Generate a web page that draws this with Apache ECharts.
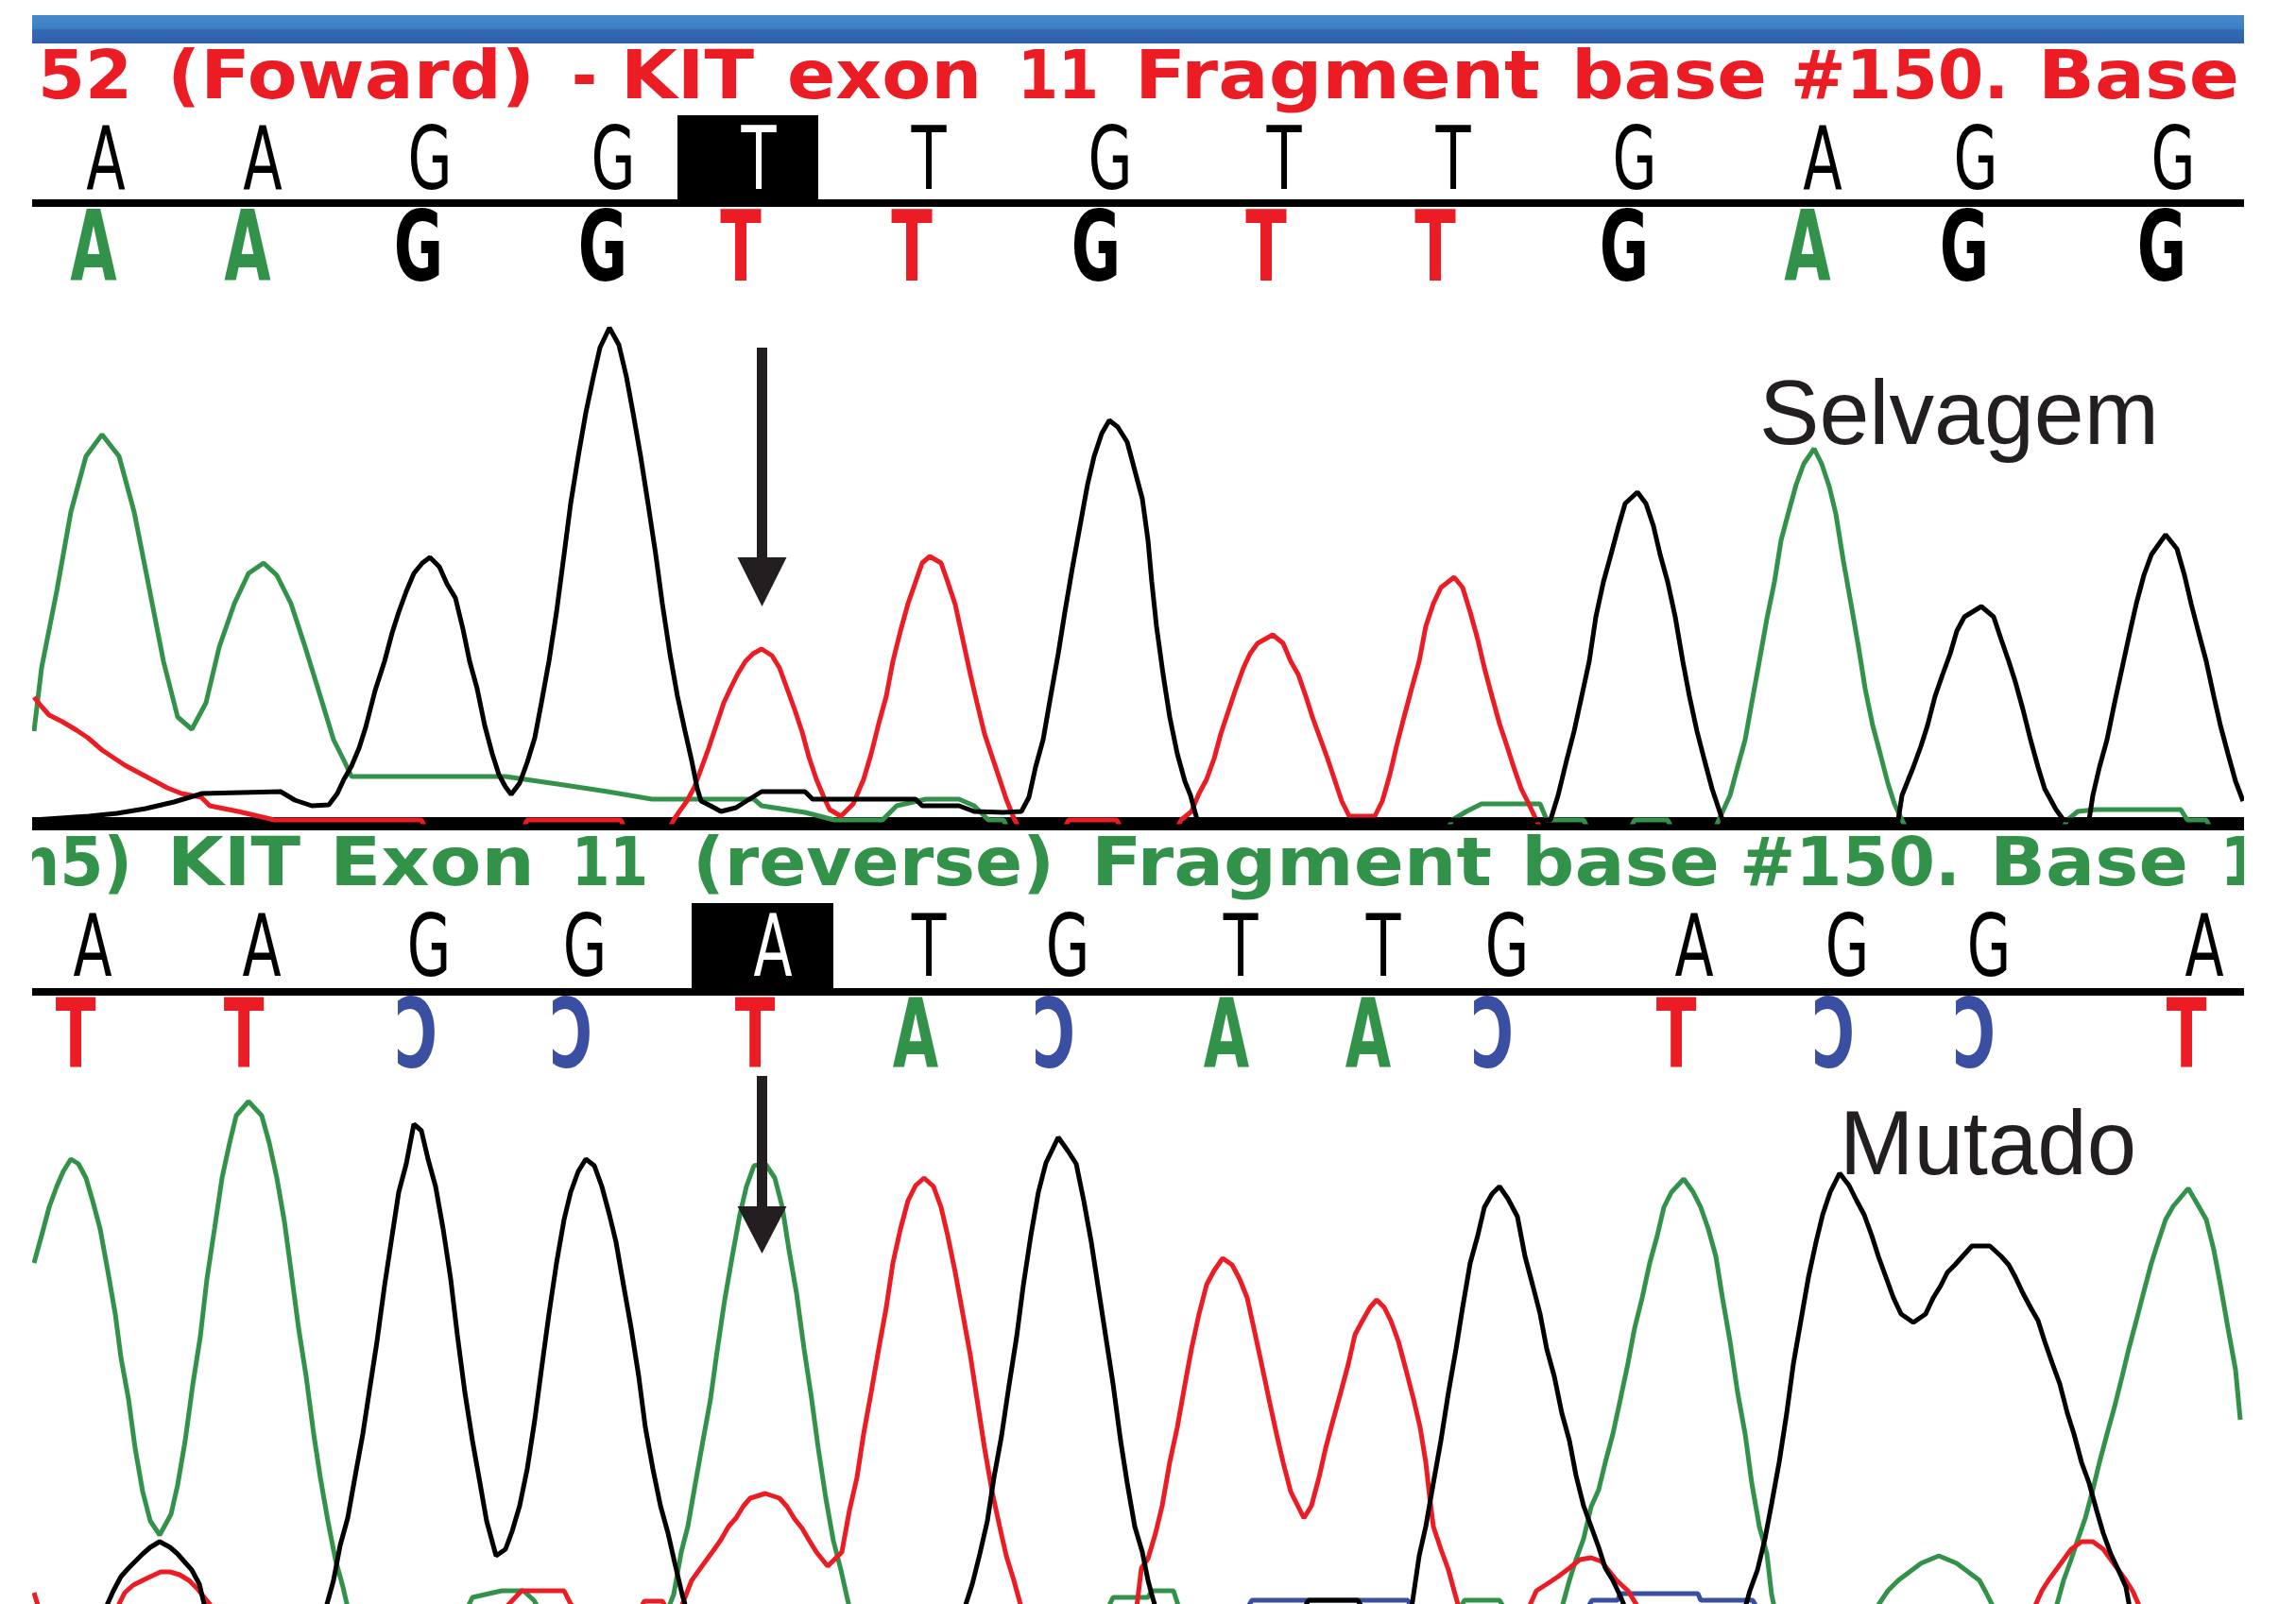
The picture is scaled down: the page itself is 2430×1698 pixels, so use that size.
<!DOCTYPE html>
<html>
<head>
<meta charset="utf-8">
<script src="https://cdn.jsdelivr.net/npm/echarts@6/dist/echarts.min.js"></script>
<style>html,body{margin:0;padding:0;background:#fff;}#c{width:2430px;height:1698px;}</style>
</head>
<body>
<div id="c"></div>
<script>
// ---------------- DATA ----------------
// Base calls (top = forward read, bottom = reverse read)
const topCalls      = ['A','A','G','G','T','T','G','T','T','G','A','G','G'];
const topCallPos    = [112,278,455,649,803,983,1175,1359,1538,1730,1929,2091,2300];
const topEdited     = ['A','A','G','G','T','T','G','T','T','G','A','G','G'];
const topEditedPos  = [99,262,443,638,784,965,1160,1340,1519,1719,1913,2079,2288];
const botCalls      = ['A','A','G','G','A','T','G','T','T','G','A','G','G','A'];
const botCallPos    = [98,277,454,619,818,983,1130,1313,1464,1595,1793,1955,2105,2333];
const botEdited     = ['T','T','C','C','T','A','C','A','A','C','T','C','C','T'];
const botEditedPos  = [80,258,440,604,799,969,1115,1298,1448,1579,1774,1940,2089,2314];
const topMarked = 4, botMarked = 4;

const topTitleWords = ['52','(Foward)','-','KIT','exon','11','Fragment','base','#150.','Base'];
const botTitleWords = ['n5)','KIT','Exon','11','(reverse)','Fragment','base','#150.','Base','1'];
const labelTop = 'Selvagem', labelBot = 'Mutado';

// Trace intensities [scan position, signal]  (top = forward, bottom = reverse)
const topA = [[36,96],[44,163],[60,244],[75,328],[91,387],[108,410],[126,387],[142,328],[157,252],[173,170],[188,111],[203,98],[218,126],[232,185],[248,231],[263,263],[279,274],[293,261],[308,231],[323,185],[339,133],[353,87],[364,65],[372,48],[535,48],[597,39],[643,32],[690,24],[798,24],[806,17],[852,10],[883,2],[934,2],[949,17],[980,24],[1015,24],[1031,17],[1046,2],[1062,2],[1068,-10],[1531,-10],[1537,2],[1552,11],[1568,19],[1630,19],[1637,2],[1676,2],[1682,-10],[1724,-10],[1730,2],[1765,2],[1771,-10],[1814,-10],[1820,4],[1831,28],[1839,58],[1847,87],[1854,126],[1862,170],[1870,215],[1878,254],[1885,298],[1893,328],[1901,357],[1909,379],[1920,395],[1928,379],[1936,355],[1943,326],[1951,276],[1959,231],[1967,185],[1974,141],[1982,102],[1990,72],[1998,41],[2005,19],[2013,2],[2019,-10],[2182,-10],[2188,2],[2199,11],[2218,13],[2308,13],[2315,2],[2335,2],[2341,-10],[2374,-10]];
const topG = [[35,2],[94,6],[124,9],[154,14],[184,21],[214,30],[297,32],[312,23],[330,17],[348,18],[357,30],[364,45],[372,59],[380,78],[387,100],[397,139],[407,170],[415,200],[422,222],[430,244],[438,263],[447,274],[455,280],[465,270],[473,252],[482,237],[490,204],[497,170],[505,141],[513,102],[521,72],[528,50],[535,37],[541,29],[550,41],[558,63],[566,89],[573,126],[581,170],[589,222],[597,283],[604,337],[612,387],[620,433],[628,471],[635,502],[645,523],[655,505],[663,471],[670,433],[678,387],[686,336],[694,283],[701,231],[709,178],[717,133],[725,96],[732,65],[738,35],[742,22],[752,17],[763,11],[779,15],[790,22],[806,32],[852,32],[860,24],[969,24],[976,17],[1015,17],[1031,11],[1062,10],[1081,11],[1089,26],[1096,58],[1104,87],[1112,133],[1120,178],[1127,222],[1135,269],[1143,313],[1151,357],[1158,387],[1166,411],[1174,425],[1183,418],[1193,402],[1201,372],[1209,342],[1215,298],[1219,254],[1224,207],[1231,156],[1238,111],[1246,72],[1254,43],[1260,28],[1267,2],[1641,2],[1649,28],[1658,65],[1666,96],[1674,133],[1682,170],[1689,217],[1697,254],[1705,283],[1713,313],[1720,337],[1733,349],[1742,337],[1750,313],[1757,283],[1765,254],[1773,217],[1781,170],[1788,133],[1796,96],[1804,65],[1812,35],[1823,2],[2009,2],[2013,28],[2025,58],[2033,80],[2040,102],[2048,133],[2056,156],[2064,178],[2071,202],[2079,217],[2097,228],[2110,217],[2118,193],[2126,170],[2133,148],[2141,119],[2149,87],[2157,58],[2164,35],[2176,13],[2184,2],[2211,2],[2215,28],[2222,58],[2230,87],[2238,126],[2246,163],[2254,200],[2261,231],[2269,261],[2277,283],[2292,304],[2304,289],[2312,261],[2319,231],[2327,200],[2335,170],[2343,133],[2350,102],[2358,72],[2366,43],[2374,22]];
const topT = [[36,132],[44,122],[52,113],[66,106],[81,97],[93,89],[108,76],[120,68],[132,60],[147,52],[162,44],[177,36],[192,30],[213,26],[222,17],[252,11],[282,4],[290,2],[446,2],[452,-10],[552,-10],[558,2],[657,2],[663,-10],[707,-10],[713,2],[719,11],[727,22],[735,37],[742,56],[750,78],[758,102],[766,126],[773,141],[781,157],[789,170],[797,178],[806,183],[817,176],[825,163],[833,141],[841,119],[849,95],[856,69],[864,45],[872,26],[878,13],[890,6],[903,19],[914,45],[922,72],[930,104],[938,133],[945,170],[953,202],[961,231],[969,254],[976,274],[984,281],[996,274],[1003,254],[1011,230],[1019,193],[1027,156],[1034,126],[1042,93],[1050,69],[1058,45],[1065,24],[1073,4],[1080,-10],[1125,-10],[1131,2],[1182,2],[1188,-10],[1244,-10],[1250,2],[1261,11],[1269,30],[1277,45],[1285,67],[1292,93],[1300,117],[1308,141],[1316,163],[1323,178],[1331,189],[1347,198],[1358,189],[1366,170],[1374,156],[1382,133],[1389,111],[1397,89],[1405,67],[1413,43],[1420,22],[1428,6],[1455,6],[1463,22],[1471,50],[1478,80],[1486,111],[1494,141],[1502,170],[1509,207],[1517,231],[1525,248],[1539,259],[1548,248],[1556,222],[1564,193],[1571,163],[1579,133],[1587,104],[1595,80],[1602,58],[1610,35],[1618,19],[1626,2],[1632,-10]];

const botA = [[36,363],[44,392],[52,422],[60,444],[67,460],[75,473],[83,468],[91,453],[98,429],[106,399],[114,355],[122,309],[128,263],[136,219],[143,167],[151,121],[159,90],[169,75],[181,97],[188,128],[196,175],[204,234],[212,285],[219,346],[227,399],[235,453],[243,490],[250,519],[263,534],[277,519],[285,490],[293,453],[301,407],[308,355],[316,294],[324,243],[332,182],[339,136],[347,90],[355,49],[363,20],[368,-2],[375,-6],[493,-6],[500,9],[531,16],[554,16],[565,6],[572,-6],[706,-6],[713,12],[721,57],[728,84],[736,130],[744,175],[752,219],[759,270],[767,324],[775,370],[783,414],[790,444],[798,466],[810,468],[820,453],[828,422],[835,377],[843,331],[851,272],[859,219],[866,167],[874,114],[882,69],[890,38],[899,-2],[906,-6],[1171,-6],[1178,9],[1215,9],[1219,16],[1242,16],[1249,-6],[1543,-6],[1550,6],[1587,6],[1594,-6],[1646,-6],[1653,-2],[1661,27],[1668,49],[1676,71],[1684,105],[1692,123],[1699,152],[1707,182],[1715,219],[1723,257],[1730,294],[1738,326],[1746,363],[1754,392],[1761,422],[1769,438],[1782,452],[1792,438],[1800,422],[1808,399],[1816,370],[1823,326],[1831,280],[1839,226],[1847,182],[1854,130],[1862,84],[1870,55],[1875,12],[1878,-2],[1885,-6],[1979,-6],[1986,-2],[1998,16],[2009,27],[2021,36],[2033,45],[2052,53],[2071,45],[2083,36],[2095,27],[2102,14],[2110,-2],[2117,-6],[2169,-6],[2176,-2],[2184,27],[2192,49],[2199,70],[2207,93],[2215,123],[2222,152],[2230,182],[2238,211],[2246,243],[2253,272],[2261,302],[2269,333],[2277,363],[2284,385],[2292,409],[2300,423],[2316,442],[2327,423],[2335,409],[2343,377],[2350,340],[2358,294],[2366,250],[2371,197]];
const botG = [[105,-6],[112,-2],[120,16],[128,31],[136,40],[143,47],[151,55],[159,62],[169,68],[180,62],[188,55],[195,47],[203,38],[211,23],[217,-2],[224,-6],[338,-6],[345,-2],[353,27],[360,64],[368,93],[376,138],[384,182],[391,228],[399,280],[407,339],[415,392],[422,438],[430,468],[438,510],[446,503],[453,473],[461,444],[469,399],[477,346],[484,287],[492,226],[500,175],[508,130],[515,90],[525,53],[535,60],[542,79],[550,106],[558,145],[566,197],[573,250],[581,309],[589,363],[597,409],[604,438],[612,460],[620,473],[629,466],[637,444],[645,414],[652,385],[660,339],[668,294],[676,243],[683,189],[691,145],[699,106],[707,77],[714,46],[722,12],[726,-2],[733,-6],[1014,-6],[1021,-2],[1029,23],[1037,55],[1045,90],[1052,136],[1060,180],[1068,234],[1076,285],[1083,339],[1091,392],[1099,438],[1107,469],[1120,496],[1130,482],[1139,468],[1147,429],[1155,385],[1162,339],[1170,287],[1178,235],[1186,175],[1193,130],[1201,84],[1209,57],[1215,27],[1219,12],[1223,-2],[1230,-6],[1378,-6],[1385,6],[1437,6],[1444,-6],[1487,-6],[1494,-2],[1502,53],[1509,84],[1517,130],[1525,175],[1533,226],[1541,272],[1548,316],[1556,363],[1564,392],[1571,422],[1579,436],[1587,444],[1596,431],[1606,412],[1614,370],[1622,340],[1630,309],[1637,272],[1645,243],[1653,204],[1661,175],[1668,138],[1676,106],[1684,84],[1692,62],[1699,40],[1707,27],[1715,10],[1720,-2],[1727,-6],[1840,-6],[1847,-2],[1852,16],[1860,38],[1868,71],[1875,108],[1883,152],[1891,204],[1898,256],[1906,302],[1914,348],[1922,385],[1929,414],[1937,438],[1947,458],[1957,445],[1965,429],[1973,414],[1981,392],[1988,370],[1996,348],[2004,326],[2012,309],[2025,300],[2038,309],[2046,326],[2054,339],[2061,353],[2069,361],[2077,370],[2087,381],[2106,381],[2118,370],[2126,361],[2133,348],[2141,331],[2149,316],[2157,302],[2164,280],[2172,257],[2180,235],[2188,204],[2195,182],[2203,152],[2211,130],[2219,101],[2226,77],[2234,55],[2242,38],[2250,20],[2254,-2],[2261,-6]];
const botT = [[36,14],[42,-6],[118,-6],[124,-2],[132,14],[141,22],[155,29],[170,36],[180,36],[190,33],[200,27],[209,18],[225,-2],[232,-6],[530,-6],[535,-2],[552,16],[597,16],[604,2],[612,-6],[676,-6],[682,5],[701,5],[707,-6],[719,-6],[725,9],[732,27],[740,38],[748,49],[756,60],[763,70],[771,84],[779,93],[787,106],[794,114],[810,119],[825,114],[833,105],[841,92],[849,82],[856,70],[864,57],[876,42],[891,57],[899,101],[907,136],[914,182],[922,226],[930,272],[938,316],[945,363],[953,399],[961,429],[969,445],[978,453],[988,444],[996,422],[1003,392],[1011,353],[1019,309],[1027,265],[1034,219],[1042,167],[1050,121],[1058,84],[1065,53],[1073,27],[1081,-2],[1088,-6],[1196,-6],[1203,-2],[1208,40],[1215,50],[1223,77],[1230,106],[1238,152],[1246,189],[1254,234],[1261,272],[1269,309],[1277,340],[1285,355],[1294,368],[1304,361],[1312,346],[1320,326],[1327,294],[1335,257],[1343,219],[1351,182],[1358,152],[1366,121],[1374,105],[1380,93],[1388,106],[1396,136],[1403,167],[1411,197],[1419,226],[1427,256],[1434,287],[1442,302],[1450,316],[1457,324],[1465,316],[1472,302],[1480,280],[1488,250],[1496,219],[1503,189],[1509,152],[1513,116],[1517,84],[1525,60],[1533,38],[1539,16],[1544,-2],[1551,-6],[1611,-6],[1618,-2],[1626,16],[1637,23],[1649,31],[1661,40],[1672,49],[1684,51],[1695,47],[1711,27],[1723,16],[1734,-2],[1741,-6],[2146,-6],[2153,-2],[2161,16],[2168,27],[2176,38],[2184,49],[2192,60],[2203,68],[2215,68],[2226,60],[2234,49],[2242,38],[2250,27],[2257,16],[2265,-2],[2272,-6]];
const botC = [[1318,-6],[1325,6],[1490,6],[1496,-6],[1678,-6],[1685,6],[1712,6],[1715,13],[1797,13],[1800,6],[1855,6],[1862,-6]];

// ---------------- STYLE ----------------
const GREEN = '#33924a', RED = '#ec1c24', BLACK = '#000000', BLUE = '#3a4ea2', INK = '#231f20';
const FAM = '"DejaVu Sans"';

const chart = echarts.init(document.getElementById('c'), null, {renderer: 'canvas'});

function lineSeries(data, color, gi) {
  return {type: 'line', xAxisIndex: gi, yAxisIndex: gi, data: data, showSymbol: false, symbol: 'none',
          silent: true, lineStyle: {color: color, width: 5}, itemStyle: {color: color}, z: 3};
}
const hiddenAxis = {type: 'value', show: false, splitLine: {show: false}, axisLine: {show: false}, axisTick: {show: false}, axisLabel: {show: false}};

chart.setOption({
  animation: false,
  backgroundColor: '#ffffff',
  grid: [{left: 0, width: 2430, top: 290, height: 580}, {left: 0, width: 2430, top: 1120, height: 578}],
  xAxis: [Object.assign({gridIndex: 0, min: 0, max: 2430}, hiddenAxis), Object.assign({gridIndex: 1, min: 0, max: 2430}, hiddenAxis)],
  yAxis: [Object.assign({gridIndex: 0, min: 0, max: 580}, hiddenAxis), Object.assign({gridIndex: 1, min: 2, max: 580}, hiddenAxis)],
  series: [
    lineSeries(topA, GREEN, 0), lineSeries(topT, RED, 0), lineSeries(topG, BLACK, 0),
    lineSeries(botC, BLUE, 1), lineSeries(botA, GREEN, 1), lineSeries(botT, RED, 1), lineSeries(botG, BLACK, 1)
  ]
});

// ---------------- GRAPHIC LAYER ----------------
const mctx = document.createElement('canvas').getContext('2d');
function textW(str, font) { mctx.font = font; return mctx.measureText(str).width; }
const VOFF = 0.06; // canvas 'middle' sits slightly above cap-centre
function fitText(str, x0, x1, yc, color, size, weight, family, z) {
  const font = weight + ' ' + size + 'px ' + family;
  const w = textW(str, font);
  return {type: 'text', x: x0, y: yc + VOFF * size, scaleX: (x1 - x0) / w, z: z || 50, silent: true,
          style: {text: str, fill: color, fontSize: size, fontWeight: weight, fontFamily: family,
                  align: 'left', verticalAlign: 'middle', textAlign: 'left', textVerticalAlign: 'middle'}};
}
function letter(ch, xc, yc, size, weight, color, sx) {
  return {type: 'text', x: xc, y: yc + VOFF * size, scaleX: sx, z: 50, silent: true,
          style: {text: ch, fill: color, fontSize: size, fontWeight: weight, fontFamily: FAM,
                  align: 'center', verticalAlign: 'middle', textAlign: 'center', textVerticalAlign: 'middle'}};
}
function px(gi, x) { return chart.convertToPixel({xAxisIndex: gi}, x); }
function rect(x, y, w, h, fill, z) { return {type: 'rect', z: z || 20, silent: true, shape: {x: x, y: y, width: w, height: h}, style: {fill: fill}}; }

const G = [];
const L = 34, R = 2375;
// header bar
G.push({type: 'rect', z: 20, silent: true, shape: {x: L, y: 16, width: R - L, height: 30},
  style: {fill: {type: 'linear', x: 0, y: 0, x2: 0, y2: 1, colorStops: [
    {offset: 0, color: '#4689cb'}, {offset: 0.48, color: '#3d7fc4'}, {offset: 0.52, color: '#3469b4'}, {offset: 1, color: '#2e5fae'}]}}});

// titles
const topSpans = [[40,140],[177,566],[605,632],[657,798],[833,1039],[1077,1163],[1201,1630],[1663,1870],[1895,2126],[2157,2370]];
topTitleWords.forEach((w, i) => G.push(fitText(w, topSpans[i][0], topSpans[i][1], 81, RED, 71, 'bold', FAM)));
const botSpans = [[16,140],[177,318],[349,566],[605,686],[733,1116],[1155,1579],[1610,1820],[1841,2075],[2106,2316],[2350,2392]];
botTitleWords.forEach((w, i) => G.push(fitText(w, botSpans[i][0], botSpans[i][1], 914, GREEN, 71, 'bold', FAM)));

// top call rows
G.push(rect(717, 122, 149, 97, BLACK, 30));
topCalls.forEach((c, i) => {
  const g = letter(c, px(0, topCallPos[i]), 170.5, 92, 'normal', i === topMarked ? '#ffffff' : BLACK, 0.66);
  g.z = 40; G.push(g);
});
G.push(rect(L, 211, R - L, 8, BLACK, 30));
const colorOf = {A: GREEN, G: BLACK, T: RED, C: BLUE};
topEdited.forEach((c, i) => G.push(letter(c, px(0, topEditedPos[i]), 264.5, 103, 'bold', colorOf[c], 0.62)));

// top baseline band
G.push(rect(L, 865, R - L, 14, BLACK, 1));

// bottom call rows
G.push(rect(732, 956, 150, 98, BLACK, 30));
botCalls.forEach((c, i) => {
  const g = letter(c, px(1, botCallPos[i]), 1004, 91, 'normal', i === botMarked ? '#ffffff' : BLACK, 0.66);
  g.z = 40; G.push(g);
});
G.push(rect(L, 1046, R - L, 8, BLACK, 30));
botEdited.forEach((c, i) => G.push(letter(c, px(1, botEditedPos[i]), 1098, 101, 'bold', colorOf[c], c === 'C' ? -0.62 : 0.62)));

// labels
G.push(fitText(labelTop, 1862, 2285, 437, INK, 97, 'normal', '"Liberation Sans"', 60));
G.push(fitText(labelBot, 1947, 2261, 1210, INK, 97, 'normal', '"Liberation Sans"', 60));

// arrows at the marked base
function arrow(xc, y0, y1, y2) {
  G.push(rect(xc - 5.5, y0, 11, y1 - y0 + 1, INK, 60));
  G.push({type: 'polygon', z: 60, silent: true, shape: {points: [[xc - 26, y1], [xc + 26, y1], [xc, y2]]}, style: {fill: INK}});
}
arrow(px(0, topCallPos[topMarked]) + 3.5, 368, 590, 642);
arrow(px(1, botCallPos[botMarked]) - 11.5, 1139, 1277, 1327);

// white margins (clip title overflow)
G.push(rect(0, 0, L, 1698, '#ffffff', 90));
G.push(rect(R, 0, 2430 - R, 1698, '#ffffff', 90));

chart.setOption({graphic: {elements: G}});
</script>
</body>
</html>
